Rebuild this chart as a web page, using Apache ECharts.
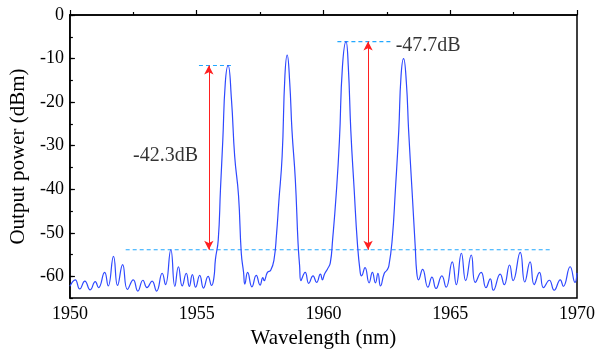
<!DOCTYPE html>
<html>
<head>
<meta charset="utf-8">
<script src="https://cdn.jsdelivr.net/npm/echarts@6/dist/echarts.min.js"></script>
<style>html,body{margin:0;padding:0;background:#fff;}#c{width:598px;height:354px;}</style>
</head>
<body>
<div id="c"></div>
<script>
// Spectrum: wavelength (nm) and output power (dBm)
const wavelength = [
1950.00,1950.21,1950.39,1950.59,1950.80,1951.00,1951.13,1951.37,1951.51,1951.72,1951.88,1952.08,1952.27,1952.50,1952.68,1952.88,1953.04,1953.24,1953.42,1953.64,1953.77,1953.98,1954.14,1954.28,1954.43,1954.59,1954.71,1954.83,1954.96,1955.12,1955.27,1955.45,1955.59,1955.68,
1955.74,1955.85,1955.94,1956.03,1956.13,1956.24,1956.37,1956.50,1956.65,1956.76,1956.85,
1956.90,1957.01,1957.18,1957.35,1957.50,1957.61,1957.66,1957.79,1957.92,
1958.05,1958.15,1958.24,1958.37,1958.48,1958.57,1958.67,1958.76,1958.89,1959.00,1959.06,
1959.11,1959.28,1959.42,1959.59,1959.73,1959.88,1959.96,1960.04,1960.16,
1960.27,1960.36,1960.50,1960.63,1960.75,1960.89,1960.98,1961.08,1961.21,1961.34,1961.45,
1961.50,1961.64,1961.80,1961.93,1962.05,1962.15,1962.25,1962.40,1962.50,
1962.58,1962.71,1962.84,1962.97,1963.06,1963.16,1963.27,1963.36,1963.49,1963.62,1963.68,
1963.75,1963.91,1964.12,1964.28,1964.44,1964.67,1964.84,1965.08,1965.24,1965.44,1965.61,1965.83,1965.99,1966.22,1966.41,1966.58,1966.70,1966.97,1967.13,1967.34,1967.48,1967.76,1967.94,1968.15,1968.31,1968.52,1968.68,1968.91,1969.10,1969.34,1969.46,1969.73,1969.92,1970.00
];
const power = [
-62.3,-60.8,-62.9,-61.1,-63.1,-61.2,-62.6,-59.1,-62.2,-55.4,-62.1,-57.3,-63.0,-60.8,-63.4,-60.9,-62.6,-61.1,-63.4,-59.3,-61.9,-53.9,-62.3,-57.8,-62.2,-59.3,-62.3,-59.6,-62.5,-59.8,-62.7,-60.0,-62.1,-60.3,
-56.1,-51.7,-39.9,-28.8,-15.5,-11.6,-19.2,-32.5,-41.4,-54.7,-59.1,
-61.8,-59.1,-62.4,-59.8,-62.0,-60.3,-61.0,-59.1,-58.6,
-56.2,-50.3,-42.9,-32.5,-14.0,-9.2,-15.5,-26.6,-37.7,-52.5,-57.6,
-61.0,-59.1,-61.6,-59.9,-61.4,-59.5,-60.8,-59.5,-58.3,
-56.9,-51.7,-41.4,-28.8,-11.8,-6.1,-11.8,-26.6,-39.9,-52.5,-59.1,
-59.9,-58.0,-61.5,-59.1,-61.5,-59.3,-62.2,-59.3,-58.6,
-57.6,-51.7,-39.9,-26.6,-14.0,-10.0,-15.5,-26.6,-39.9,-53.2,-59.1,
-60.8,-58.4,-62.5,-60.2,-62.8,-59.9,-62.5,-56.7,-61.9,-54.7,-61.0,-55.1,-61.4,-59.1,-62.6,-60.6,-63.2,-59.5,-61.9,-57.4,-61.0,-54.5,-61.3,-56.7,-61.9,-59.1,-62.6,-60.9,-63.2,-60.8,-62.3,-57.8,-61.4,-59.2
];
// Reference dashed levels [x1, x2, y]
const peakLevel1 = [1955.09, 1956.40, -11.6];
const peakLevel2 = [1960.55, 1962.75, -6.1];
const floorLevel = [1952.20, 1969.00, -53.9];
// Arrows [x, yBottom, yTop]
const arrow1 = [1955.48, -53.9, -11.6];
const arrow2 = [1961.76, -53.9, -6.1];
// Annotation labels [x, y, text]
const note1 = [1952.49, -32.3, '-42.3dB'];
const note2 = [1962.85, -7.0, '-47.7dB'];
// Axes
const xMin = 1950, xMax = 1970, xStep = 5;
const yMin = -65, yMax = 0;

const FONT = 'Liberation Serif';
const chart = echarts.init(document.getElementById('c'), null, {renderer: 'canvas'});

function seg(a) { return [[a[0], a[2]], [a[1], a[2]]]; }
const dashStyle = {color: '#22A8FF', width: 1.2, type: [4, 3]};

chart.setOption({
  animation: false,
  backgroundColor: '#fff',
  grid: {left: 68, right: 18, top: 15, bottom: 45, show: true, borderColor: '#000', borderWidth: 1.5, backgroundColor: 'transparent'},
  xAxis: {
    type: 'value', min: xMin, max: xMax, interval: xStep,
    name: 'Wavelength (nm)', nameLocation: 'middle', nameGap: 18,
    nameTextStyle: {fontFamily: FONT, fontSize: 21, color: '#000'},
    axisLine: {show: true, lineStyle: {color: '#000', width: 1.5}},
    axisTick: {show: true, inside: true, length: 5, lineStyle: {color: '#000', width: 1.2}},
    minorTick: {show: true, splitNumber: 2, length: 3, lineStyle: {color: '#000', width: 1.2}},
    axisLabel: {fontFamily: FONT, fontSize: 18, color: '#000', margin: 7, formatter: v => String(v)},
    splitLine: {show: false}
  },
  yAxis: [{
    type: 'value', min: yMin, max: yMax, splitNumber: 7,
    name: 'Output power (dBm)', nameLocation: 'middle', nameGap: 40,
    nameTextStyle: {fontFamily: FONT, fontSize: 21, color: '#000'},
    axisLine: {show: true, lineStyle: {color: '#000', width: 1.5}},
    axisTick: {show: true, inside: true, length: 5, lineStyle: {color: '#000', width: 1.2}},
    axisLabel: {fontFamily: FONT, fontSize: 18, color: '#000', margin: 6, showMinLabel: false},
    splitLine: {show: false}
  }, {
    type: 'value', min: yMin, max: yMax, interval: 5, position: 'left',
    axisLine: {show: false},
    axisTick: {show: true, inside: true, length: 3, lineStyle: {color: '#000', width: 1.2}},
    axisLabel: {show: false},
    splitLine: {show: false}
  }],
  series: [
    {
      type: 'line', data: wavelength.map((w, i) => [w, power[i]]),
      showSymbol: false, symbol: 'none', smooth: 0.5,
      lineStyle: {color: '#2E48FF', width: 1.2}, z: 3
    },
    {type: 'line', data: seg(peakLevel1), symbol: 'none', lineStyle: dashStyle, z: 2},
    {type: 'line', data: seg(peakLevel2), symbol: 'none', lineStyle: dashStyle, z: 2},
    {type: 'line', data: seg(floorLevel), symbol: 'none', lineStyle: dashStyle, z: 2},
    {
      type: 'line', data: [], z: 4,
      markLine: {
        silent: true, animation: false,
        symbol: ['arrow', 'arrow'], symbolSize: [7, 9],
        label: {show: false},
        lineStyle: {color: '#FF2020', width: 1, type: 'solid'},
        data: [
          [{coord: [arrow1[0], arrow1[1]]}, {coord: [arrow1[0], arrow1[2]]}],
          [{coord: [arrow2[0], arrow2[1]]}, {coord: [arrow2[0], arrow2[2]]}]
        ]
      }
    },
    {
      type: 'scatter', symbolSize: 0, z: 5,
      data: [[note1[0], note1[1], note1[2]], [note2[0], note2[1], note2[2]]],
      label: {
        show: true, position: 'right', distance: 0,
        formatter: p => p.data[2],
        fontFamily: FONT, fontSize: 20, color: '#000'
      }
    }
  ]
});
</script>
</body>
</html>
